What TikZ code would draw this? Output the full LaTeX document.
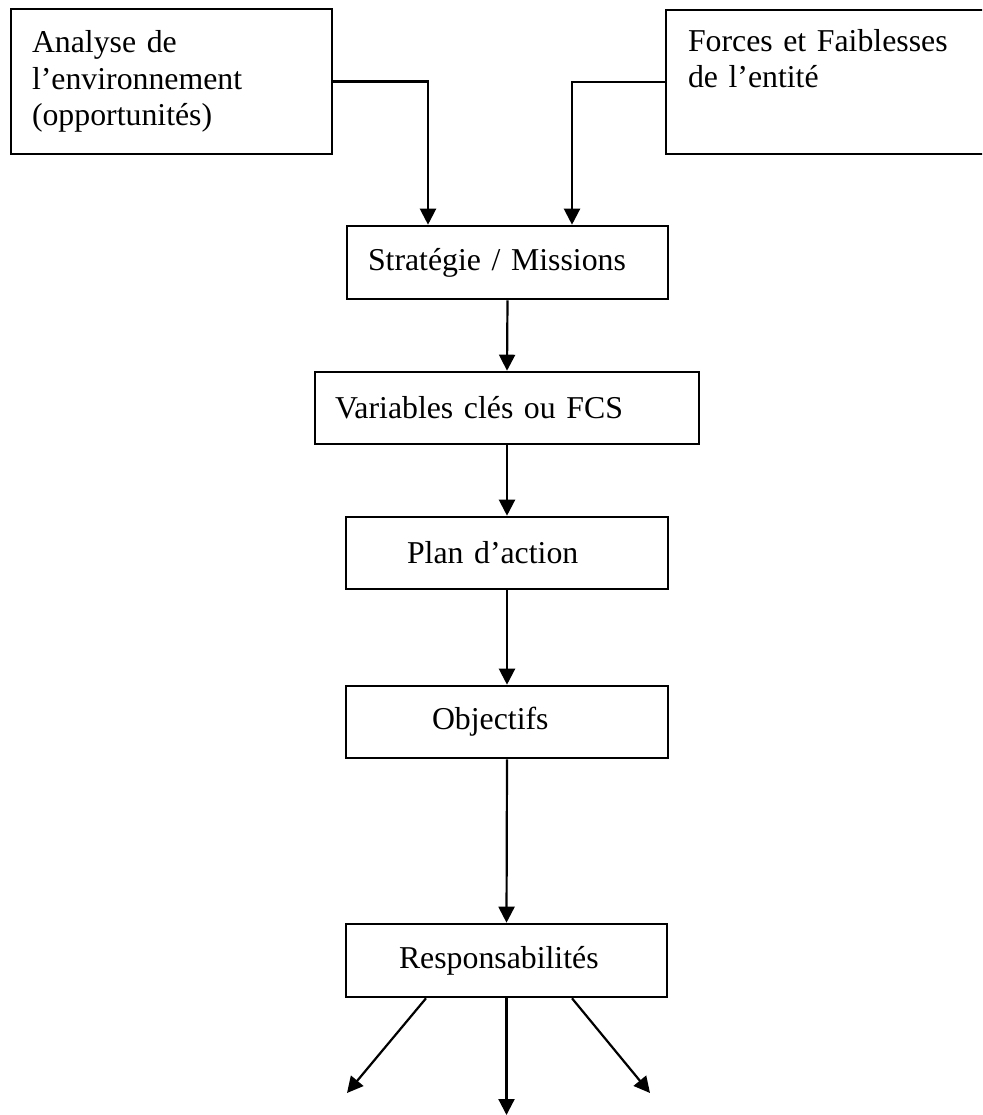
\documentclass[tikz,border=0pt]{standalone}
\usepackage{fontspec}
\setmainfont{Liberation Serif}
\usetikzlibrary{arrows.meta,positioning}
\tikzset{
  box/.style={draw, line width=2.6pt, rectangle, align=left, inner ysep=0pt, font=\fontsize{31.8}{36.5}\selectfont},
  arr/.style={line width=2.2pt, -{Triangle[length=16pt,width=16pt]}},
}
\begin{document}
\begin{tikzpicture}[x=1pt,y=-1pt]
\useasboundingbox (0,0) rectangle (982,1115);
\clip (0,0) rectangle (982,1115);
% top boxes
\node[box, minimum width=321pt, minimum height=145pt, inner xsep=21pt, text width=279pt] (A) at (171.5,81.5)
  {Analyse de\\l’environnement\\(opportunités)};
\node[box, minimum width=340pt, minimum height=144pt, inner xsep=22pt, text width=296pt] (B) at (836,82)
  {Forces et Faiblesses\\de l’entité\\\strut};
% chain
\node[box, minimum width=321pt, minimum height=73pt, inner xsep=21pt, text width=279pt] (S) at (507.5,262.5)
  {Stratégie / Missions};
\node[box, minimum width=384pt, minimum height=72pt, inner xsep=20pt, text width=344pt] (V) at (507,408)
  {Variables clés ou FCS};
\node[box, minimum width=322pt, minimum height=72pt, inner xsep=61pt, text width=200pt] (P) at (507,553)
  {Plan d’action};
\node[box, minimum width=322pt, minimum height=72pt, inner xsep=86pt, text width=150pt] (O) at (507,722)
  {Objectifs};
\node[box, minimum width=321pt, minimum height=73pt, inner xsep=53pt, text width=215pt] (R) at (506.5,960.5)
  {Responsabilités};
% connectors
\draw[arr] (A.east) -| ([xshift=-79.5pt]S.north);
\draw[arr] (B.west) -| ([xshift=64.5pt]S.north);
\draw[arr] (S.south) -- (V.north);
\draw[arr] (V.south) -- (P.north);
\draw[arr] (P.south) -- (O.north);
\draw[arr] (O.south) -- (R.north);
\coordinate (L1) at (347,1093);
\coordinate (M1) at (506.5,1115);
\coordinate (R1) at (650,1093);
\draw[arr] ([xshift=-80.5pt]R.south) -- (L1);
\draw[arr] (R.south) -- (M1);
\draw[arr] ([xshift=65.5pt]R.south) -- (R1);
\end{tikzpicture}
\end{document}
